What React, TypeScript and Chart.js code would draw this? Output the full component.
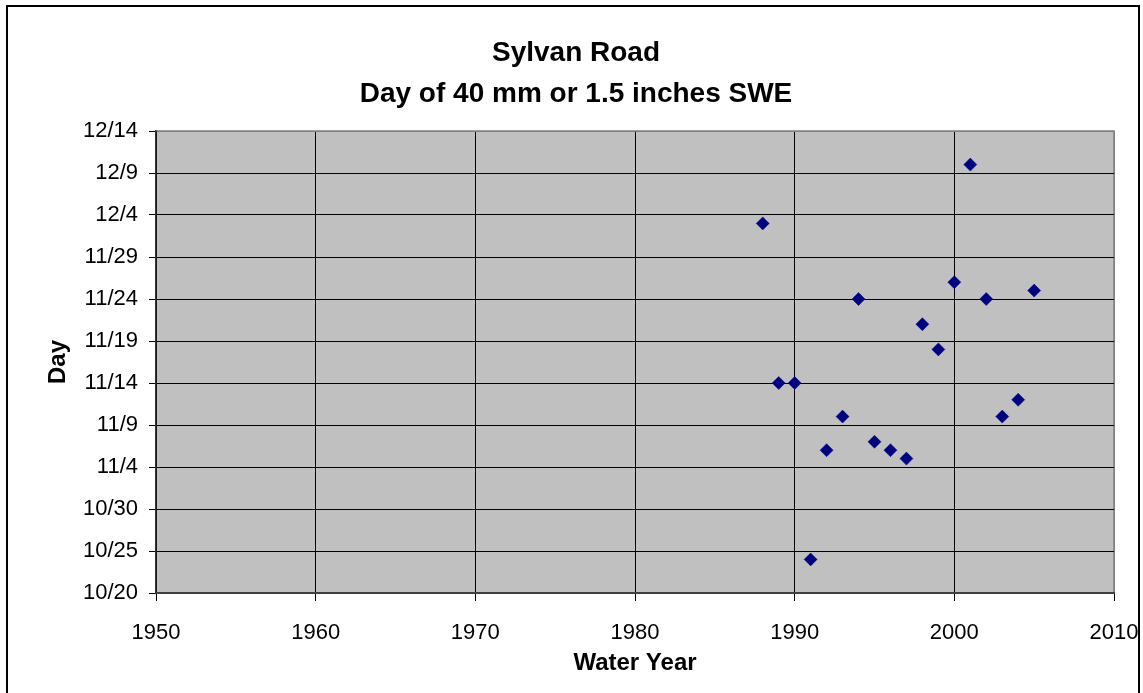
import React, { useEffect, useRef } from 'react';
import { Chart, registerables } from 'chart.js';

Chart.register(...registerables);

const titleLines = ['Sylvan Road', 'Day of 40 mm or 1.5 inches SWE'];
const xAxisTitle = 'Water Year';
const yAxisTitle = 'Day';

const waterYears = [1988, 1989, 1990, 1991, 1992, 1993, 1994, 1995, 1996, 1997, 1998, 1999, 2000, 2001, 2002, 2003, 2004, 2005];
const swe40Dates = ['12/3', '11/14', '11/14', '10/24', '11/6', '11/10', '11/24', '11/7', '11/6', '11/5', '11/21', '11/18', '11/26', '12/10', '11/24', '11/10', '11/12', '11/25'];

const yearTicks = [1950, 1960, 1970, 1980, 1990, 2000, 2010];
const dayTickLabels = ['10/20', '10/25', '10/30', '11/4', '11/9', '11/14', '11/19', '11/24', '11/29', '12/4', '12/9', '12/14'];

// days counted from 10/20
function dayIndex(label: string): number {
  const [m, d] = label.split('/').map(Number);
  const monthStart: Record<number, number> = { 10: -20, 11: 11, 12: 41 };
  return monthStart[m] + d;
}

const FONT = "'Liberation Sans', Arial, Helvetica, sans-serif";

export default function App() {
  const ref = useRef<HTMLCanvasElement | null>(null);

  useEffect(() => {
    if (!ref.current) return;
    const dayTicks = dayTickLabels.map(dayIndex);
    const yMin = dayTicks[0];
    const yMax = dayTicks[dayTicks.length - 1];
    const xMin = yearTicks[0];
    const xMax = yearTicks[yearTicks.length - 1];

    const plotBg = {
      id: 'plotBg',
      beforeDraw(chart: any) {
        const { ctx, chartArea: a } = chart;
        ctx.save();
        ctx.fillStyle = '#C0C0C0';
        ctx.fillRect(a.left, a.top, a.right - a.left, a.bottom - a.top);
        ctx.strokeStyle = '#808080';
        ctx.lineWidth = 1.5;
        ctx.strokeRect(a.left, a.top, a.right - a.left, a.bottom - a.top);
        ctx.restore();
      },
      afterDraw(chart: any) {
        const { ctx } = chart;
        ctx.save();
        ctx.strokeStyle = '#000';
        ctx.lineWidth = 2;
        ctx.strokeRect(7, 6, 1132, 700);
        ctx.restore();
      },
    };

    const chart = new Chart(ref.current, {
      type: 'scatter',
      data: {
        datasets: [
          {
            label: 'Day of 40 mm SWE',
            data: waterYears.map((yr, i) => ({ x: yr, y: dayIndex(swe40Dates[i]) })),
            pointStyle: 'rectRot',
            pointRadius: 6.5,
            pointHoverRadius: 6.5,
            backgroundColor: '#000080',
            borderColor: '#000080',
            borderWidth: 0.5,
          },
        ],
      },
      options: {
        responsive: false,
        animation: false,
        devicePixelRatio: 1,
        layout: { padding: { left: 38, right: 29, top: 0, bottom: 0 } },
        plugins: {
          legend: { display: false },
          tooltip: { enabled: false },
          title: {
            display: true,
            text: titleLines,
            color: '#000',
            font: { family: FONT, size: 28, weight: 'bold', lineHeight: 41 / 28 },
            padding: { top: 32.5, bottom: 16.5 },
          },
        },
        scales: {
          x: {
            type: 'linear',
            min: xMin,
            max: xMax,
            afterFit: (axis: any) => {
              axis.height = 100;
              axis.paddingLeft = 0;
              axis.paddingRight = 0;
            },
            afterBuildTicks: (axis: any) => { axis.ticks = yearTicks.map((v) => ({ value: v })); },
            ticks: {
              color: '#000',
              font: { family: FONT, size: 22 },
              padding: 19,
              maxRotation: 0,
              autoSkip: false,
              callback: (v: any) => String(v),
            },
            grid: {
              color: (c: any) => (c.tick && c.tick.value === xMax ? '#808080' : '#000'),
              tickColor: '#000',
              tickLength: 8,
              lineWidth: 1,
            },
            border: { color: '#404040', width: 2 },
            title: {
              display: true,
              text: xAxisTitle,
              color: '#000',
              font: { family: FONT, size: 24, weight: 'bold', lineHeight: 1.2 },
              padding: { top: 0, bottom: 15.5 },
            },
          },
          y: {
            type: 'linear',
            min: yMin,
            max: yMax,
            afterFit: (axis: any) => {
              axis.width = 118;
              axis.paddingTop = 0;
              axis.paddingBottom = 0;
            },
            afterBuildTicks: (axis: any) => { axis.ticks = dayTicks.map((v) => ({ value: v })); },
            ticks: {
              color: '#000',
              font: { family: FONT, size: 22 },
              padding: 11,
              autoSkip: false,
              callback: (v: any) => {
                const i = dayTicks.indexOf(Number(v));
                return i >= 0 ? dayTickLabels[i] : '';
              },
            },
            grid: {
              color: (c: any) => (c.tick && c.tick.value === yMax ? '#808080' : '#000'),
              tickColor: '#000',
              tickLength: 7,
              lineWidth: 1,
            },
            border: { color: '#333', width: 1.5 },
            title: {
              display: true,
              text: yAxisTitle,
              color: '#000',
              font: { family: FONT, size: 24, weight: 'bold', lineHeight: 1.2 },
              padding: { top: 5.6, bottom: 0 },
            },
          },
        },
      },
      plugins: [plotBg],
    } as any);

    return () => chart.destroy();
  }, []);

  return (
    <div style={{ position: 'fixed', left: 0, top: 0, width: 1143, height: 693, background: '#fff' }}>
      <canvas ref={ref} width={1143} height={693} style={{ display: 'block' }} />
    </div>
  );
}
